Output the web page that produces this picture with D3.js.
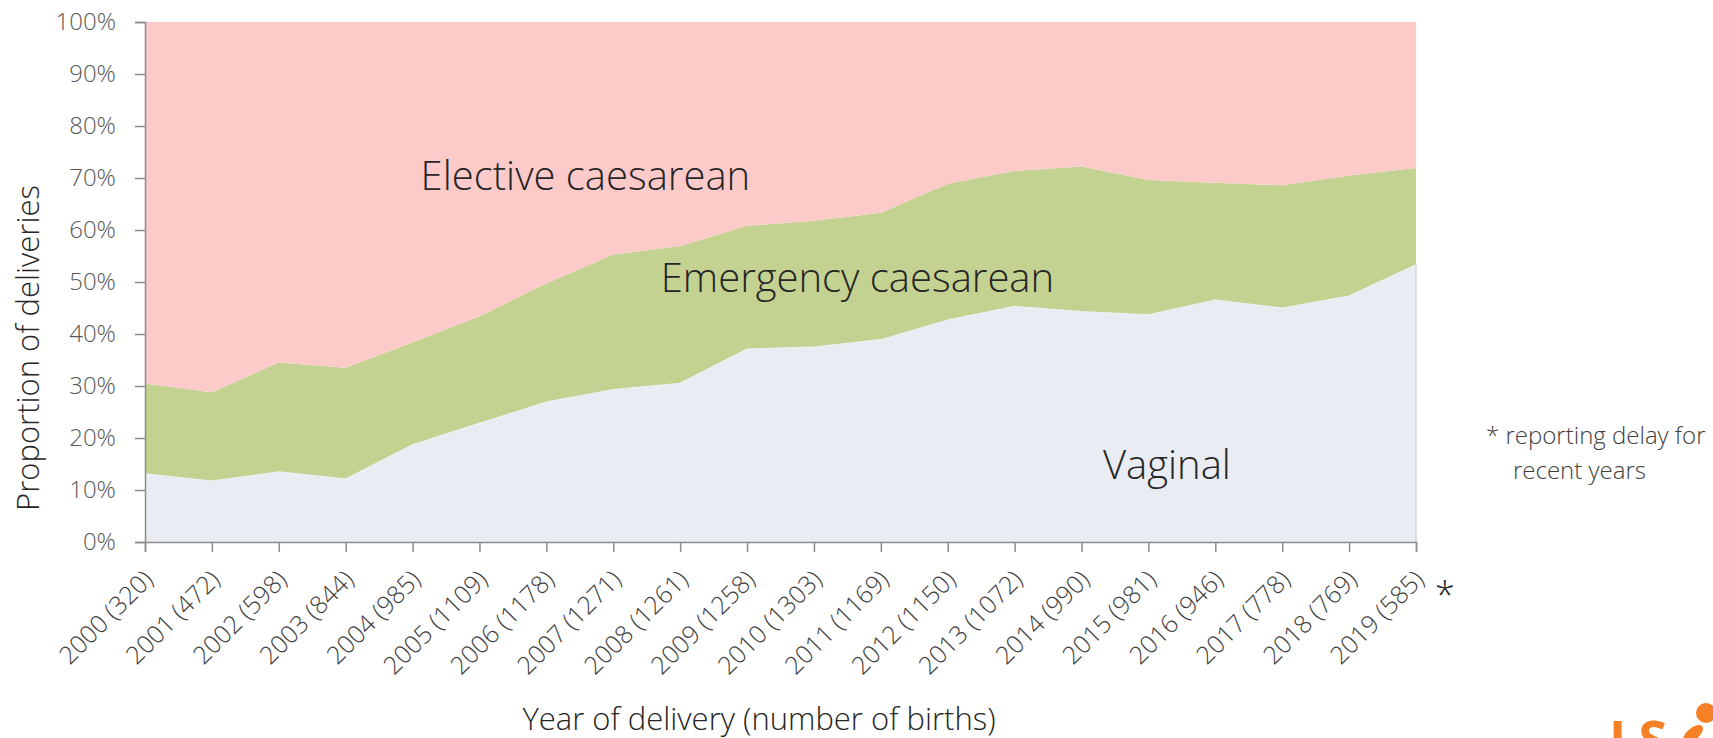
<!DOCTYPE html>
<html>
<head>
<meta charset="utf-8">
<script src="https://cdn.jsdelivr.net/npm/d3@7"></script>
<style>
  body { margin: 0; background: #ffffff; overflow: hidden; }
  #chart { width: 1713px; height: 738px; }
  text { font-family: "Open Sans", "Noto Sans", sans-serif; font-weight: 300; }
</style>
</head>
<body>
<div id="chart"></div>
<script>
// data (percent of deliveries)
const years = [2000, 2001, 2002, 2003, 2004, 2005, 2006, 2007, 2008, 2009, 2010, 2011, 2012, 2013, 2014, 2015, 2016, 2017, 2018, 2019];
const births = [320, 472, 598, 844, 985, 1109, 1178, 1271, 1261, 1258, 1303, 1169, 1150, 1072, 990, 981, 946, 778, 769, 585];
const vaginal = [13.1, 11.7, 13.5, 12.1, 18.7, 22.8, 26.9, 29.3, 30.5, 37.1, 37.5, 38.9, 42.7, 45.3, 44.3, 43.7, 46.5, 45.0, 47.3, 53.3];
const emergency = [17.4, 17.1, 21.0, 21.4, 19.7, 20.6, 22.8, 26.0, 26.4, 23.7, 24.3, 24.4, 26.2, 26.1, 27.9, 25.9, 22.6, 23.6, 23.2, 18.6];
const elective = [69.5, 71.2, 65.5, 66.5, 61.6, 56.6, 50.3, 44.7, 43.1, 39.2, 38.2, 36.7, 31.1, 28.6, 27.8, 30.4, 30.9, 31.4, 29.5, 28.1];
const yTicks = [0, 10, 20, 30, 40, 50, 60, 70, 80, 90, 100];

const keys = ["vaginal", "emergency", "elective"];
const colors = { vaginal: "#e9ecf2", emergency: "#c4d291", elective: "#fdcaca" };

const rows = years.map((yr, i) => ({
    year: yr, vaginal: vaginal[i], emergency: emergency[i], elective: elective[i]
}));

const margin = {top: 22, right: 297, bottom: 196, left: 145},
    width = 1713 - margin.left - margin.right,
    height = 738 - margin.top - margin.bottom;

const svg = d3.select("#chart")
    .append("svg")
    .attr("width", 1713)
    .attr("height", 738);

const g = svg.append("g")
    .attr("transform", `translate(${margin.left},${margin.top})`);

const x = d3.scaleLinear()
    .domain([years[0], years[years.length - 1]])
    .range([0, width]);

const y = d3.scaleLinear()
    .domain([0, 100])
    .range([height, 0]);

const stacked = d3.stack().keys(keys)(rows);

const area = d3.area()
    .x(d => x(d.data.year))
    .y0(d => y(d[0]))
    .y1(d => y(d[1]));

g.selectAll(".layer")
    .data(stacked)
    .enter()
    .append("path")
    .attr("class", "layer")
    .attr("fill", d => colors[d.key])
    .attr("d", area);

// faint light edge along the top of the vaginal area
g.append("path")
    .datum(rows)
    .attr("fill", "none")
    .attr("stroke", "#eef0f4")
    .attr("stroke-width", 1.2)
    .attr("d", d3.line().x(d => x(d.year)).y(d => y(d.vaginal)));

// faint edge on the right of the vaginal area
g.append("line")
    .attr("x1", x(years[years.length - 1]))
    .attr("x2", x(years[years.length - 1]))
    .attr("y1", y(vaginal[vaginal.length - 1]))
    .attr("y2", y(0))
    .attr("stroke", "#d4d6da")
    .attr("stroke-width", 1.5);

// Y axis
const yAxis = g.append("g")
    .call(d3.axisLeft(y).tickValues(yTicks).tickFormat(d => d + "%").tickSize(10).tickPadding(19));
yAxis.select(".domain").attr("stroke", "#8c8c8c").attr("stroke-width", 1.5);
yAxis.selectAll(".tick line").attr("stroke", "#8c8c8c").attr("stroke-width", 1.5);
yAxis.selectAll("text")
    .attr("fill", "#595959")
    .style("font-size", "24px")
    .style("font-family", '"Open Sans", sans-serif')
    .style("font-weight", 300);

// X axis, labels rotated with their end at the tick
const xAxis = g.append("g")
    .attr("transform", `translate(0,${height})`)
    .call(d3.axisBottom(x).tickValues(years).tickSize(10).tickFormat((d, i) => `${d} (${births[i]})`));
xAxis.select(".domain").attr("stroke", "#8c8c8c").attr("stroke-width", 1.5);
xAxis.selectAll(".tick line").attr("stroke", "#8c8c8c").attr("stroke-width", 1.5);
xAxis.selectAll("text")
    .attr("fill", "#404040")
    .style("font-size", "25px")
    .style("font-family", '"Open Sans", sans-serif')
    .style("font-weight", 300)
    .style("text-anchor", "end")
    .attr("x", 0)
    .attr("y", 0)
    .attr("dy", 0)
    .attr("transform", "translate(9,39)rotate(-45)");

// asterisk after last label
g.append("text")
    .attr("x", x(years[years.length - 1]) + 29)
    .attr("y", height + 66)
    .attr("text-anchor", "middle")
    .attr("fill", "#262626")
    .style("font-size", "36px")
    .text("*");

// area labels
const labelStyle = sel => sel.attr("fill", "#262626").style("font-size", "40px");

g.append("text").attr("x", x(2004.12)).attr("y", y(67.7)).call(labelStyle).text("Elective caesarean");
g.append("text").attr("x", x(2007.71)).attr("y", y(48)).call(labelStyle).text("Emergency caesarean");
g.append("text").attr("x", x(2014.32)).attr("y", y(12.2)).call(labelStyle).text("Vaginal");

// axis titles
svg.append("text")
    .attr("transform", "translate(39,348)rotate(-90)")
    .attr("text-anchor", "middle")
    .attr("fill", "#262626")
    .style("font-size", "31px")
    .text("Proportion of deliveries");

svg.append("text")
    .attr("x", 759)
    .attr("y", 730)
    .attr("text-anchor", "middle")
    .attr("fill", "#262626")
    .style("font-size", "31px")
    .text("Year of delivery (number of births)");

// footnote
const note = svg.append("text")
    .attr("fill", "#404040")
    .style("font-size", "24px");
note.append("tspan").attr("x", 1486).attr("y", 444).text("* reporting delay for");
note.append("tspan").attr("x", 1513).attr("y", 479).text("recent years");

// logo fragment at the bottom edge
svg.append("text")
    .attr("x", 1609)
    .attr("y", 758)
    .attr("fill", "#f58025")
    .style("font-size", "52px")
    .style("font-weight", 700)
    .style("font-family", '"Open Sans", sans-serif')
    .text("LS");
svg.append("circle")
    .attr("cx", 1706)
    .attr("cy", 713)
    .attr("r", 10)
    .attr("fill", "#f58025");
svg.append("ellipse")
    .attr("cx", 1693)
    .attr("cy", 734)
    .attr("rx", 12)
    .attr("ry", 6)
    .attr("transform", "rotate(-40,1693,734)")
    .attr("fill", "#f58025");
</script>
</body>
</html>
